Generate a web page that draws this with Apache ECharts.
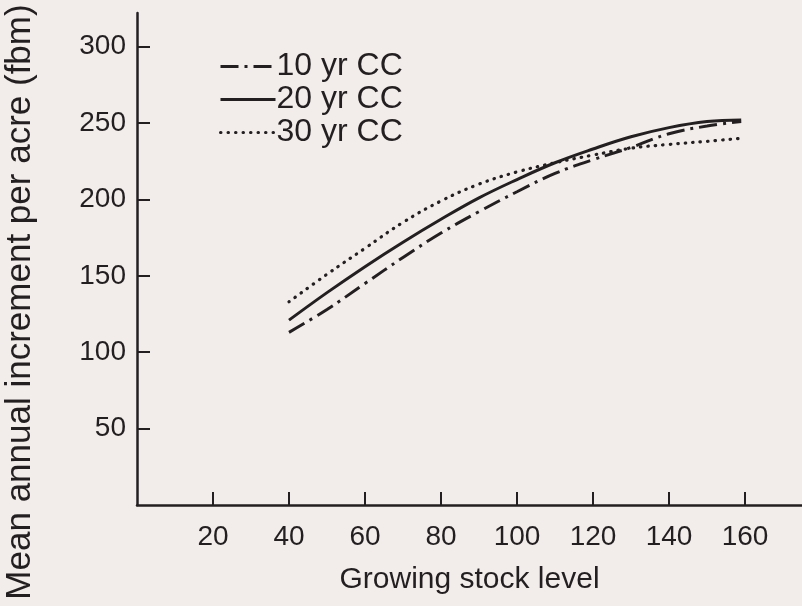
<!DOCTYPE html>
<html>
<head>
<meta charset="utf-8">
<script src="https://cdn.jsdelivr.net/npm/echarts@6/dist/echarts.min.js"></script>
<style>
  html, body { margin: 0; padding: 0; background: #f2ecea; }
  #chart { width: 802px; height: 606px; }
</style>
</head>
<body>
<div id="chart"></div>
<script>
// Growing stock level (x) and mean annual increment per acre, fbm (y)
const xTicks = [20, 40, 60, 80, 100, 120, 140, 160];
const yTicks = [50, 100, 150, 200, 250, 300];

const stockLevels = [40, 50, 60, 70, 80, 90, 100, 110, 120, 130, 140, 150, 159];
const cc10 = [113, 128, 145, 162, 178, 192, 205, 217, 226, 234, 243, 248, 251];
const cc20 = [121, 139, 156, 172, 187, 201, 213, 224, 233, 241, 247, 251, 252];
const cc30 = [133, 151, 168, 185, 199, 210, 218, 224, 229, 233.5, 236, 238, 240];

const seriesNames = ['10 yr CC', '20 yr CC', '30 yr CC'];

const ink = '#231f20';
const font = 'Liberation Sans, Arial, sans-serif';

const pairs = (ys) => stockLevels.map((x, i) => [x, ys[i]]);

const chart = echarts.init(document.getElementById('chart'), null, { renderer: 'canvas' });

chart.setOption({
  backgroundColor: '#f2ecea',
  animation: false,
  grid: { left: 137, right: 0, top: 13, bottom: 101, containLabel: false },
  legend: {
    show: true,
    orient: 'vertical',
    left: 219,
    top: 50,
    itemWidth: 55,
    itemHeight: 14,
    itemGap: 0,
    padding: 0,
    data: seriesNames,
    itemStyle: { opacity: 0 },
    lineStyle: { width: 3 },
    textStyle: { color: ink, fontSize: 32, fontFamily: font, lineHeight: 33, padding: [0, 0, 0, -4] }
  },
  xAxis: {
    type: 'value',
    min: 0,
    max: 175,
    interval: 20,
    name: 'Growing stock level',
    nameLocation: 'middle',
    nameGap: 60,
    nameTextStyle: { color: ink, fontSize: 30, fontFamily: font },
    axisLine: { onZero: false, lineStyle: { color: ink, width: 2.5 } },
    axisTick: { inside: true, length: 13, lineStyle: { color: ink, width: 2 } },
    axisLabel: {
      color: ink, fontSize: 28, fontFamily: font, margin: 18,
      showMinLabel: false, showMaxLabel: false,
      formatter: (v) => (xTicks.includes(v) ? String(v) : '')
    },
    splitLine: { show: false }
  },
  yAxis: {
    type: 'value',
    min: 0,
    max: 322,
    interval: 50,
    axisLine: { show: true, onZero: false, lineStyle: { color: ink, width: 2.5 } },
    axisTick: { inside: true, length: 13, lineStyle: { color: ink, width: 2 } },
    axisLabel: {
      color: ink, fontSize: 28, fontFamily: font, margin: 11,
      showMinLabel: false, showMaxLabel: false,
      formatter: (v) => (yTicks.includes(v) ? String(v) : '')
    },
    splitLine: { show: false }
  },
  graphic: [{
    type: 'text',
    rotation: Math.PI / 2,
    x: 20,
    y: 302,
    style: {
      text: 'Mean annual increment per acre (fbm)',
      fill: ink,
      fontSize: 35,
      fontFamily: font,
      align: 'center',
      verticalAlign: 'middle'
    }
  }],
  series: [
    {
      name: seriesNames[0], type: 'line', data: pairs(cc10), smooth: 0.4,
      showSymbol: false, symbol: 'none',
      lineStyle: { color: ink, width: 3, type: [18, 6, 3, 6] },
      itemStyle: { color: ink }
    },
    {
      name: seriesNames[1], type: 'line', data: pairs(cc20), smooth: 0.4,
      showSymbol: false, symbol: 'none',
      lineStyle: { color: ink, width: 3, type: 'solid' },
      itemStyle: { color: ink }
    },
    {
      name: seriesNames[2], type: 'line', data: pairs(cc30), smooth: 0.4,
      showSymbol: false, symbol: 'none',
      lineStyle: { color: ink, width: 3.2, type: [0.5, 7], cap: 'round' },
      itemStyle: { color: ink }
    }
  ]
});
</script>
</body>
</html>
